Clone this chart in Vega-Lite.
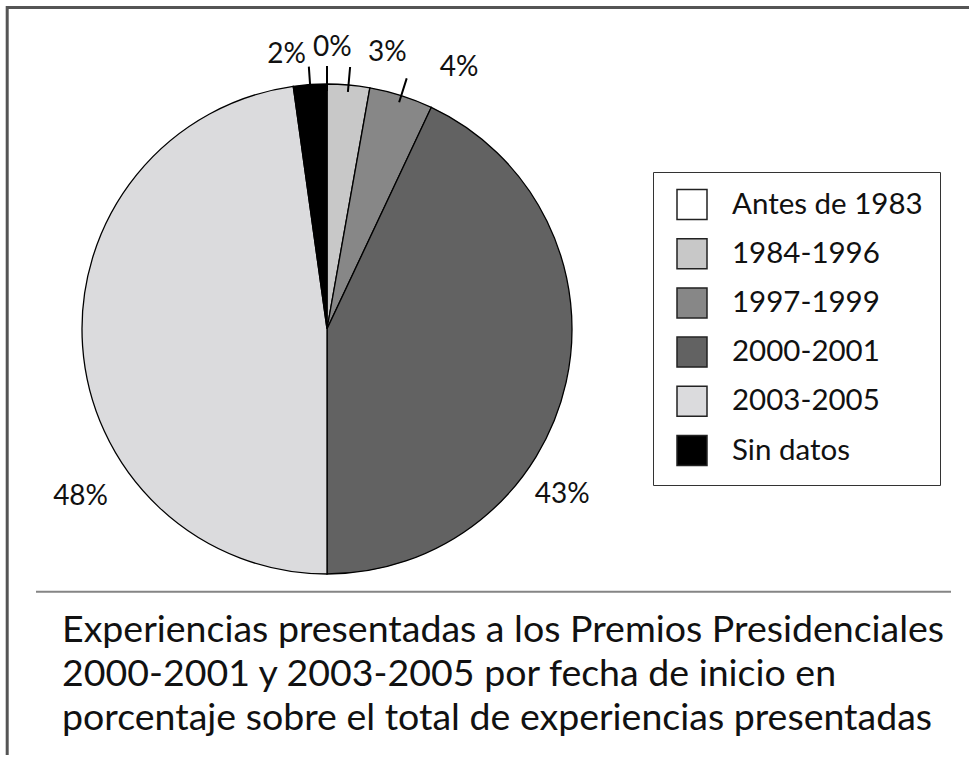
{
  "$schema": "https://vega.github.io/schema/vega-lite/v6.json",
  "width": 654,
  "height": 658,
  "padding": 0,
  "autosize": {"type": "pad"},
  "background": "white",
  "config": {"view": {"stroke": null}, "font": "Lato"},
  "title": {
    "text": ["Experiencias presentadas a los Premios Presidenciales", "2000-2001 y 2003-2005 por fecha de inicio en", "porcentaje sobre el total de experiencias presentadas"],
    "orient": "bottom",
    "anchor": "start",
    "frame": "group",
    "offset": -115,
    "dx": 62,
    "font": "Lato",
    "fontSize": 37.5,
    "fontWeight": "normal",
    "color": "#111111",
    "lineHeight": 44,
    "baseline": "alphabetic"
  },
  "data": {
    "values": [
      {"periodo": "Antes de 1983", "valor": 0, "orden": 1},
      {"periodo": "1984-1996", "valor": 0.028, "orden": 2},
      {"periodo": "1997-1999", "valor": 0.042, "orden": 3},
      {"periodo": "2000-2001", "valor": 0.43, "orden": 4},
      {"periodo": "2003-2005", "valor": 0.478, "orden": 5},
      {"periodo": "Sin datos", "valor": 0.022, "orden": 6}
    ]
  },
  "layer": [
    {
      "data": {"values": [{}]},
      "mark": {"type": "rule", "stroke": "#555555", "strokeWidth": 3},
      "encoding": {"x": {"value": 6}, "x2": {"value": 969}, "y": {"value": 7.5}}
    },
    {
      "data": {"values": [{}]},
      "mark": {"type": "rule", "stroke": "#555555", "strokeWidth": 3},
      "encoding": {"x": {"value": 7.2}, "y": {"value": 6}, "y2": {"value": 755}}
    },
    {
      "data": {"values": [{}]},
      "mark": {"type": "rule", "stroke": "#858585", "strokeWidth": 2},
      "encoding": {"x": {"value": 36}, "x2": {"value": 951}, "y": {"value": 591.7}}
    },
    {
      "mark": {"type": "arc", "radius": 245, "stroke": "black", "strokeWidth": 1.3},
      "encoding": {
        "theta": {"field": "valor", "type": "quantitative", "stack": true},
        "order": {"field": "orden", "type": "quantitative"},
        "color": {
          "field": "periodo",
          "type": "nominal",
          "scale": {
            "domain": ["Antes de 1983", "1984-1996", "1997-1999", "2000-2001", "2003-2005", "Sin datos"],
            "range": ["#ffffff", "#c8c8c8", "#878787", "#626262", "#dbdbdd", "#000000"]
          },
          "legend": {
            "orient": "none",
            "legendX": 653,
            "legendY": 172,
            "title": null,
            "symbolType": "square",
            "symbolSize": 900,
            "symbolStrokeColor": "#222222",
            "symbolStrokeWidth": 1.5,
            "symbolOpacity": 1,
            "symbolOffset": 6.5,
            "labelFont": "Lato",
            "labelFontSize": 29.5,
            "labelColor": "#111111",
            "labelOffset": 24,
            "labelLimit": 400,
            "rowPadding": 13.2,
            "padding": 16.5,
            "strokeColor": "#333333",
            "fillColor": "white"
          }
        }
      }
    },
    {
      "mark": {"type": "arc", "innerRadius": 238, "outerRadius": 263, "padAngle": 3.1, "filled": false, "stroke": "black", "strokeWidth": 2},
      "encoding": {
        "theta": {"field": "valor", "type": "quantitative", "stack": true},
        "order": {"field": "orden", "type": "quantitative"},
        "strokeOpacity": {"condition": {"test": "datum.valor < 0.05", "value": 1}, "value": 0}
      }
    },
    {
      "mark": {"type": "text", "radius": 263, "fontSize": 28, "align": "right", "baseline": "alphabetic", "dx": -3, "dy": -4, "color": "#111111"},
      "encoding": {
        "theta": {"field": "valor", "type": "quantitative", "stack": true},
        "order": {"field": "orden", "type": "quantitative"},
        "text": {"condition": {"test": "datum.periodo === 'Sin datos'", "field": "valor", "type": "quantitative", "format": ".0%"}, "value": ""}
      }
    },
    {
      "mark": {"type": "text", "radius": 263, "fontSize": 28, "align": "left", "baseline": "alphabetic", "dx": -14, "dy": -10, "color": "#111111"},
      "encoding": {
        "theta": {"field": "valor", "type": "quantitative", "stack": true},
        "order": {"field": "orden", "type": "quantitative"},
        "text": {"condition": {"test": "datum.periodo === 'Antes de 1983'", "field": "valor", "type": "quantitative", "format": ".0%"}, "value": ""}
      }
    },
    {
      "mark": {"type": "text", "radius": 263, "fontSize": 28, "align": "left", "baseline": "alphabetic", "dx": 18, "dy": -6, "color": "#111111"},
      "encoding": {
        "theta": {"field": "valor", "type": "quantitative", "stack": true},
        "order": {"field": "orden", "type": "quantitative"},
        "text": {"condition": {"test": "datum.periodo === '1984-1996'", "field": "valor", "type": "quantitative", "format": ".0%"}, "value": ""}
      }
    },
    {
      "mark": {"type": "text", "radius": 263, "fontSize": 28, "align": "left", "baseline": "alphabetic", "dx": 33, "dy": -2, "color": "#111111"},
      "encoding": {
        "theta": {"field": "valor", "type": "quantitative", "stack": true},
        "order": {"field": "orden", "type": "quantitative"},
        "text": {"condition": {"test": "datum.periodo === '1997-1999'", "field": "valor", "type": "quantitative", "format": ".0%"}, "value": ""}
      }
    },
    {
      "mark": {"type": "text", "radius": 245, "fontSize": 28, "align": "center", "baseline": "alphabetic", "dx": -4, "dy": 121, "color": "#111111"},
      "encoding": {
        "theta": {"field": "valor", "type": "quantitative", "stack": true},
        "order": {"field": "orden", "type": "quantitative"},
        "text": {"condition": {"test": "datum.periodo === '2000-2001'", "field": "valor", "type": "quantitative", "format": ".0%"}, "value": ""}
      }
    },
    {
      "mark": {"type": "text", "radius": 245, "fontSize": 28, "align": "center", "baseline": "alphabetic", "dx": -2, "dy": 159, "color": "#111111"},
      "encoding": {
        "theta": {"field": "valor", "type": "quantitative", "stack": true},
        "order": {"field": "orden", "type": "quantitative"},
        "text": {"condition": {"test": "datum.periodo === '2003-2005'", "field": "valor", "type": "quantitative", "format": ".0%"}, "value": ""}
      }
    }
  ]
}
